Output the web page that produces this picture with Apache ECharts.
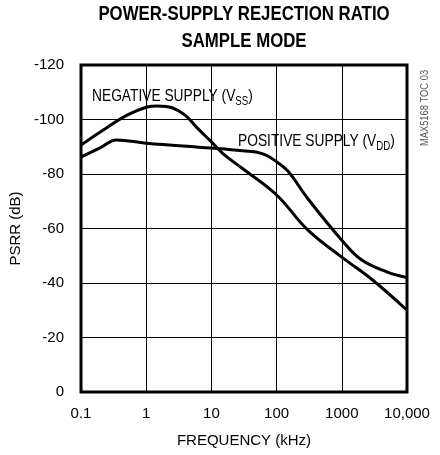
<!DOCTYPE html>
<html>
<head>
<meta charset="utf-8">
<script src="https://cdn.jsdelivr.net/npm/echarts@6/dist/echarts.min.js"></script>
<style>
html,body{margin:0;padding:0;background:#fff;}
#c{width:440px;height:455px;}
</style>
</head>
<body>
<div id="c"></div>
<script>
var FONT = "'Liberation Sans Narrow','Arial Narrow','Liberation Sans',Arial,sans-serif";

var xTicks = [0.1, 1, 10, 100, 1000, 10000];
var xTickLabels = ['0.1', '1', '10', '100', '1000', '10,000'];

var negFreq = [0.1, 0.2, 0.5, 1, 1.5, 2.5, 4, 6, 10, 15, 30, 100, 300, 1000, 3000, 10000];
var negPsrr = [-90.6, -95.5, -101.5, -104.5, -105, -104.3, -101.5, -97, -91.8, -87.5, -82, -72.3, -59.5, -49.5, -41, -30];

var posFreq = [0.1, 0.2, 0.35, 1, 10, 30, 60, 100, 150, 300, 1000, 2000, 5000, 10000];
var posPsrr = [-86.2, -89.7, -92.5, -91.3, -89.5, -88.5, -87.5, -84.5, -81, -71, -55.7, -48.5, -44, -42];

function pairs(xs, ys) { return xs.map(function (x, i) { return [x, ys[i]]; }); }

var richLbl = {
  n: { fontFamily: FONT, fontSize: 17, fill: '#000', lineHeight: 20, verticalAlign: 'bottom' },
  s: { fontFamily: FONT, fontSize: 12, fill: '#000', lineHeight: 20, verticalAlign: 'bottom', padding: [0, 0, -3, 0] }
};

var chart = echarts.init(document.getElementById('c'));
chart.setOption({
  animation: false,
  backgroundColor: '#fff',
  grid: { left: 81, right: 33, top: 65, bottom: 63, show: true, borderColor: '#000', borderWidth: 3, backgroundColor: 'transparent' },
  xAxis: {
    type: 'log', logBase: 10, min: 0.1, max: 10000,
    name: 'FREQUENCY (kHz)', nameLocation: 'middle', nameGap: 41,
    nameTextStyle: { fontFamily: FONT, fontSize: 15, color: '#000' },
    axisLine: { show: false }, axisTick: { show: false },
    axisLabel: {
      fontFamily: FONT, fontSize: 15, color: '#000', margin: 14,
      formatter: function (v) {
        for (var i = 0; i < xTicks.length; i++) { if (Math.abs(v - xTicks[i]) / xTicks[i] < 1e-6) return xTickLabels[i]; }
        return '';
      }
    },
    splitLine: { show: true, lineStyle: { color: '#000', width: 1 } },
    minorSplitLine: { show: false }
  },
  yAxis: {
    type: 'value', min: -120, max: 0, interval: 20, inverse: true,
    name: 'PSRR (dB)', nameLocation: 'middle', nameGap: 47, nameRotate: 90,
    nameTextStyle: { fontFamily: FONT, fontSize: 15, color: '#000' },
    axisLine: { show: false }, axisTick: { show: false },
    axisLabel: { fontFamily: FONT, fontSize: 15, color: '#000', margin: 17 },
    splitLine: { show: true, lineStyle: { color: '#000', width: 1 } }
  },
  series: [
    { type: 'line', data: pairs(negFreq, negPsrr), smooth: 0.4, showSymbol: false, lineStyle: { color: '#000', width: 3 } },
    { type: 'line', data: pairs(posFreq, posPsrr), smooth: 0.4, showSymbol: false, lineStyle: { color: '#000', width: 3 } }
  ],
  graphic: [
    { type: 'text', x: 244, y: 14.5, scaleX: 0.84, style: {
      text: 'POWER-SUPPLY REJECTION RATIO', fontFamily: FONT, fontWeight: 'bold', fontSize: 20, fill: '#000', align: 'center', verticalAlign: 'middle' } },
    { type: 'text', x: 244, y: 41.5, scaleX: 0.84, style: {
      text: 'SAMPLE MODE', fontFamily: FONT, fontWeight: 'bold', fontSize: 20, fill: '#000', align: 'center', verticalAlign: 'middle' } },
    { type: 'text', x: 92, y: 85, scaleX: 0.81, style: { text: '{n|NEGATIVE SUPPLY (V}{s|SS}{n|)}', rich: richLbl, align: 'left', verticalAlign: 'top' } },
    { type: 'text', x: 238, y: 130, scaleX: 0.81, style: { text: '{n|POSITIVE SUPPLY (V}{s|DD}{n|)}', rich: richLbl, align: 'left', verticalAlign: 'top' } },
    { type: 'text', x: 425, y: 108, rotation: Math.PI / 2, scaleX: 0.85, style: {
      text: 'MAX5168 TOC 03', fontFamily: FONT, fontSize: 11, fill: '#555', align: 'center', verticalAlign: 'middle' } }
  ]
});
</script>
</body>
</html>
